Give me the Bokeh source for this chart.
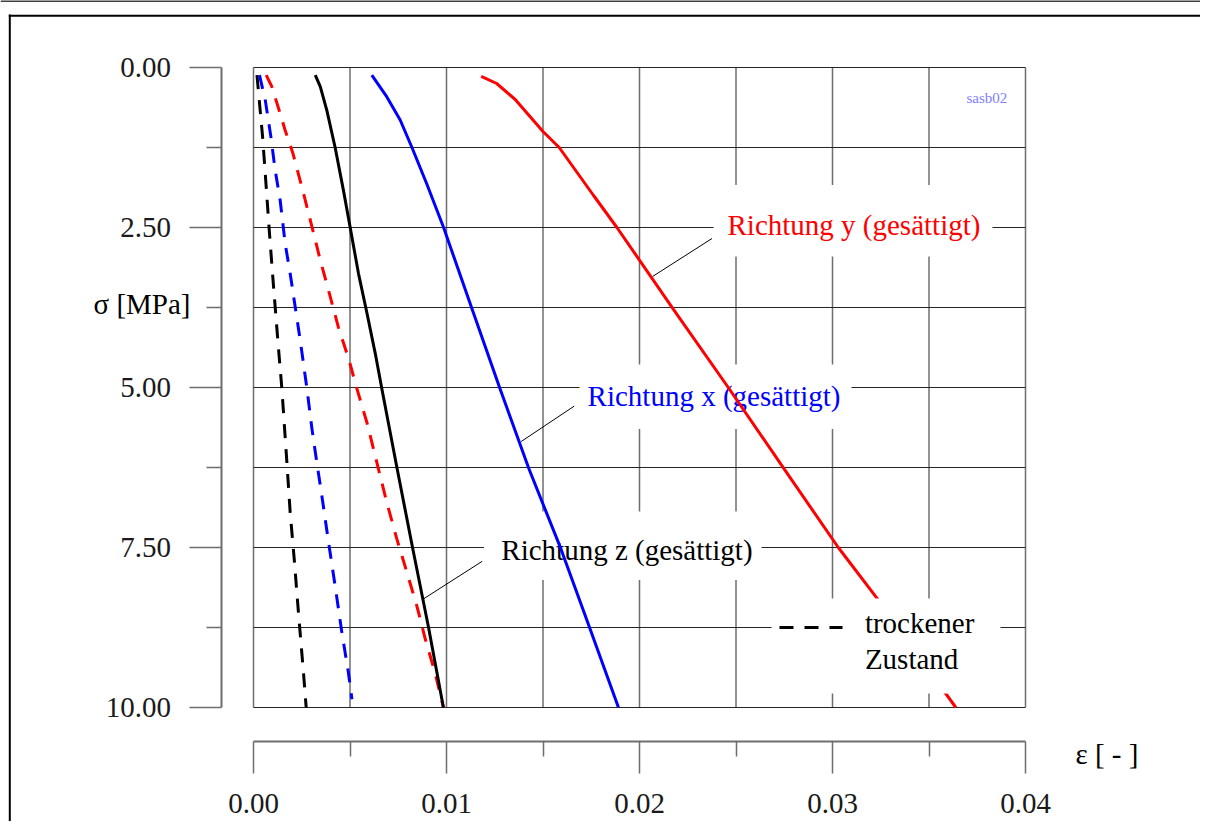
from bokeh.plotting import figure
from bokeh.models import Range1d, FixedTicker, PrintfTickFormatter, ColumnDataSource
from bokeh.core.properties import value
from bokeh.embed import file_html
from bokeh.resources import INLINE

FONT = "Liberation Serif"

# ---------------- data ----------------
x_ticks = [0.00, 0.01, 0.02, 0.03, 0.04]
x_minor = [0.005, 0.015, 0.025, 0.035]
x_grid = [0.0, 0.005, 0.01, 0.015, 0.02, 0.025, 0.03, 0.035, 0.04]
y_ticks = [0.0, 2.5, 5.0, 7.5, 10.0]
y_minor = [1.25, 3.75, 6.25, 8.75]
y_grid = [0.0, 1.25, 2.5, 3.75, 5.0, 6.25, 7.5, 8.75, 10.0]

# dry state (dashed)
sig_z_dry = [0.12, 1.08, 1.66, 2.60, 3.43, 4.26, 5.02, 6.17, 6.95, 7.68, 8.52, 9.46, 10.0]
eps_z_dry = [0.00018, 0.00047, 0.00061, 0.00083, 0.00104, 0.00126, 0.00147, 0.00173,
             0.00190, 0.00211, 0.00233, 0.00259, 0.00273]
sig_x_dry = [0.12, 0.51, 1.08, 1.60, 2.07, 2.75, 3.22, 3.84, 4.26, 5.02, 5.65, 6.17,
             6.69, 7.42, 8.10, 8.83, 9.46, 9.87]
eps_x_dry = [0.00031, 0.00061, 0.00090, 0.00112, 0.00138, 0.00164, 0.00190, 0.00221,
             0.00242, 0.00277, 0.00303, 0.00328, 0.00354, 0.00389, 0.00423, 0.00458,
             0.00492, 0.00510]
sig_y_dry = [0.12, 0.30, 0.64, 0.98, 1.34, 1.87, 2.49, 3.01, 3.54, 4.06, 4.57, 4.96,
             5.55, 6.17, 6.80, 7.37, 7.89, 8.42, 8.93, 9.46, 10.0]
eps_y_dry = [0.00066, 0.00095, 0.00130, 0.00164, 0.00204, 0.00251, 0.00303, 0.00346,
             0.00394, 0.00440, 0.00495, 0.00530, 0.00588, 0.00639, 0.00691, 0.00743,
             0.00795, 0.00847, 0.00890, 0.00941, 0.00984]

# saturated state (solid)
sig_z_sat = [0.12, 0.30, 0.67, 1.25, 1.92, 2.5, 3.22, 3.84, 4.47, 5.02, 6.25, 7.5, 8.75, 10.0]
eps_z_sat = [0.00320, 0.00346, 0.00380, 0.00423, 0.00466, 0.00501, 0.00544, 0.00588,
             0.00631, 0.00665, 0.00743, 0.00824, 0.00907, 0.00984]
sig_x_sat = [0.12, 0.46, 0.82, 1.25, 1.82, 2.5, 3.77, 5.0, 6.27, 7.53, 8.78, 10.0]
eps_x_sat = [0.00613, 0.00691, 0.00760, 0.00821, 0.00898, 0.00985, 0.01132, 0.01275,
             0.01427, 0.01594, 0.01745, 0.01891]
sig_y_sat = [0.14, 0.25, 0.5, 1.0, 1.25, 2.0, 2.5, 3.77, 5.0, 6.28, 7.5, 8.3, 10.0]
eps_y_sat = [0.01180, 0.01260, 0.01356, 0.01500, 0.01584, 0.01762, 0.01883, 0.02174,
             0.02460, 0.02751, 0.03030, 0.03232, 0.03639]

# annotations
ann_text = ["Richtung y (gesättigt)", "Richtung x (gesättigt)", "Richtung z (gesättigt)"]
ann_color = ["#ff0000", "#0000ff", "#000000"]
ann_x = [0.02456, 0.01731, 0.01284]
ann_y = [2.454, 5.132, 7.543]
box_left = [0.023834, 0.016891, 0.011943]
box_right = [0.038290, 0.030984, 0.026321]
box_top = [1.836, 4.641, 6.9375]
box_bottom = [2.953, 5.648, 8.008]
lead_x0 = [0.023756, 0.016617, 0.011850]
lead_y0 = [2.672, 5.291, 7.716]
lead_x1 = [0.020674, 0.013870, 0.008824]
lead_y1 = [3.266, 5.844, 8.300]

legend_text = ["trockener", "Zustand"]
legend_text_x = [0.031679, 0.031679]
legend_text_y = [8.679, 9.235]
legend_line_x = [0.027254, 0.030518]
legend_line_y = [8.75, 8.75]

y_title = "σ [MPa]"
x_title = "ε [ - ]"

# ---------------- figure ----------------
# pixel scale: 19300 px per unit strain, 64 px per MPa; canvas = frame
W, H = 1200, 821
p = figure(frame_width=W, frame_height=H, min_border=0,
           x_range=Range1d(-253 / 19300, 947 / 19300),
           y_range=Range1d(754 / 64, -67 / 64),
           output_backend="svg", toolbar_location=None,
           background_fill_color="white", border_fill_color="white",
           outline_line_color=None)
p.grid.visible = False

# detached axes (drawn inside the canvas at fixed positions)
p.xaxis.fixed_location = 674 / 64
p.yaxis.fixed_location = -32.5 / 19300
p.xaxis.bounds = (0, 0.04)
p.yaxis.bounds = (0, 10)
p.xaxis.ticker = FixedTicker(ticks=x_ticks, minor_ticks=x_minor)
p.yaxis.ticker = FixedTicker(ticks=y_ticks, minor_ticks=y_minor)
p.xaxis.formatter = PrintfTickFormatter(format="%.2f")
p.yaxis.formatter = PrintfTickFormatter(format="%.2f")
for ax in (p.xaxis[0], p.yaxis[0]):
    ax.axis_line_color = "#6e6e6e"
    ax.axis_line_width = 2
    ax.major_tick_line_color = "#6e6e6e"
    ax.major_tick_line_width = 1.5
    ax.minor_tick_line_color = "#6e6e6e"
    ax.minor_tick_line_width = 1.5
    ax.major_tick_in = 0
    ax.major_tick_out = 32
    ax.minor_tick_in = 0
    ax.minor_tick_out = 15
    ax.major_label_text_font = FONT
    ax.major_label_text_font_size = "29px"
    ax.major_label_text_color = "#1a1a1a"
p.xaxis.major_label_standoff = 20
p.yaxis.major_label_standoff = 18

# page frame lines
p.segment(x0=[-243.7 / 19300, -244.7 / 19300, -253 / 19300],
          y0=[-53 / 64, -51.8 / 64, -66.4 / 64],
          x1=[-243.7 / 19300, 0.0495, 0.0495],
          y1=[12.0, -51.8 / 64, -66.4 / 64],
          line_color="black", line_width=[2, 2, 1.5])

# grid of the plot area
p.segment(x0=x_grid, x1=x_grid, y0=[0] * len(x_grid), y1=[10] * len(x_grid),
          line_color="#6e6e6e", line_width=1.5)
p.segment(x0=[0] * len(y_grid), x1=[0.04] * len(y_grid), y0=y_grid, y1=y_grid,
          line_color="#262626", line_width=1)

# annotation boxes and texts
p.quad(left=box_left, right=box_right, top=box_top, bottom=box_bottom,
       fill_color="white", line_color=None)
ann_src = ColumnDataSource(dict(x=ann_x, y=ann_y, text=ann_text, color=ann_color))
p.text(x="x", y="y", text="text", text_color="color", source=ann_src,
       text_font=value(FONT), text_font_size=value("29px"),
       text_align="left", text_baseline="alphabetic")
p.segment(x0=lead_x0, y0=lead_y0, x1=lead_x1, y1=lead_y1, line_color="black", line_width=1)

# curves
dash = "14 11"
p.line(eps_z_dry, sig_z_dry, line_color="black", line_width=3, line_dash=dash)
p.line(eps_x_dry, sig_x_dry, line_color="#0000ff", line_width=3, line_dash=dash)
p.line(eps_y_dry, sig_y_dry, line_color="#ff0000", line_width=3, line_dash=dash)
p.line(eps_x_sat, sig_x_sat, line_color="#0000ff", line_width=3)
p.line(eps_y_sat, sig_y_sat, line_color="#ff0000", line_width=3)
p.line(eps_z_sat, sig_z_sat, line_color="black", line_width=3)

# legend
p.quad(left=[0.026839], right=[0.038705], top=[8.297], bottom=[9.781],
       fill_color="white", line_color=None)
p.line(legend_line_x, legend_line_y, line_color="black", line_width=3, line_dash=dash)
p.text(x=legend_text_x, y=legend_text_y, text=legend_text, text_color="black",
       text_font=value(FONT), text_font_size=value("29px"),
       text_align="left", text_baseline="alphabetic")

# file tag
p.text(x=[0.036943], y=[0.469], text=["sasb02"], text_color="#8080ff",
       text_font=value(FONT), text_font_size=value("15px"),
       text_align="left", text_baseline="alphabetic")

# axis titles
p.text(x=[-0.003264], y=[3.69], text=[y_title], text_color="black",
       text_font=value(FONT), text_font_size=value("29px"),
       text_align="right", text_baseline="alphabetic")
p.text(x=[0.04259], y=[10.72], text=[x_title], text_color="black",
       text_font=value(FONT), text_font_size=value("29px"),
       text_align="left", text_baseline="alphabetic")

open("out.html", "w").write(file_html(p, INLINE))
